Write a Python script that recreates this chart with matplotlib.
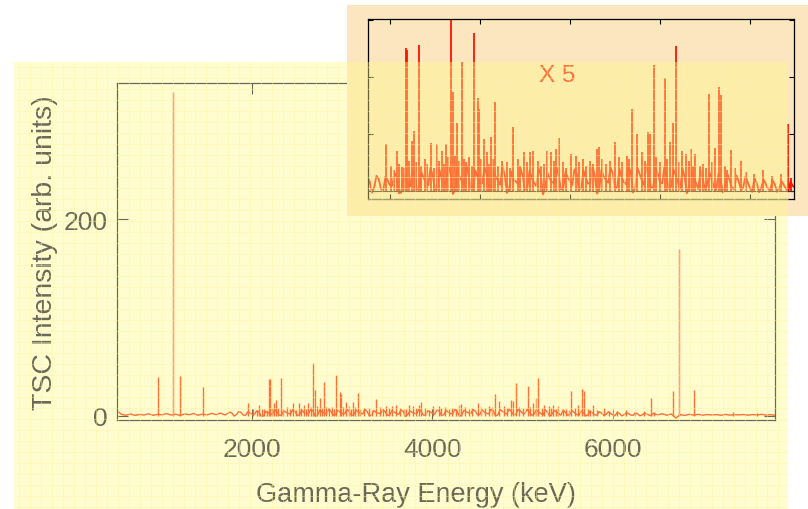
import matplotlib.pyplot as plt
import numpy as np
from matplotlib.patches import Rectangle
from matplotlib.lines import Line2D

plt.rcParams['font.family'] = ['Liberation Sans', 'DejaVu Sans']

# Фон спектра: значения на сетке 50 кэВ
bg_energy = np.arange(500, 7801, 50)
bg_counts = [
    5.0, 1.2, 0.4, 1.6, 0.2, 1.1, 0.6, 1.8, 0.3, 1.3,
    0.8, 2.0, 0.5, 1.4, 0.1, 1.7, 0.9, 2.1, 0.4, 1.5,
    0.7, 2.2, 1.0, 2.6, 0.6, 3.5, -0.5, 4.0, 0.5, 3.8,
    1.5, 4.8, -0.6, 4.2, 2.0, 5.8, 0.4, 4.9, 2.3, 6.1,
    0.2, 5.6, 2.4, 6.5, -0.8, 5.9, 2.6, 6.8, 0.6, 5.4,
    2.2, 6.2, 0.1, 5.5, 2.8, 6.6, -0.5, 5.1, 2.5, 6.0,
    0.3, 5.3, 2.1, 5.9, -0.9, 4.8, 2.4, 6.3, 0.4, 5.0,
    2.6, 5.7, 0.2, 5.4, 2.0, 6.4, -0.7, 5.6, 2.9, 6.2,
    0.6, 5.8, 2.3, 6.7, -0.4, 6.1, 2.7, 6.9, 1.0, 6.3,
    2.4, 6.5, 0.5, 5.6, 2.2, 6.0, -0.6, 5.2, 2.1, 5.5,
    0.4, 4.9, 1.0, 4.6, -0.4, 4.4, 0.8, 4.1, 0.2, 3.9,
    0.7, 3.4, -0.3, 3.0, 0.5, 2.8, -0.2, 2.6, 0.6, 2.4,
    0.8, 1.9, 0.3, 1.6, -2.5, 1.0, 0.2, 1.3, 0.5, 1.2,
    0.4, 1.1, 0.6, 1.0, 0.3, 1.2, 0.5, 0.9, 0.7, 1.1,
    0.4, 1.0, 0.6, 1.3, 0.5, 0.9, 0.3,
]

# Промежуточные точки фона (середины 50-кэВ шагов) в области вставки
mid_energy = np.arange(1775, 6476, 50)
mid_counts = [
    2.5, 1.0, 3.2, 0.2, 2.8, 1.4, 3.6, -0.4, 3.0, 1.2,
    3.8, 0.6, 3.4, 1.5, 4.2, 0.8, 3.1, 1.9, 4.5, 0.3,
    3.6, 1.7, 4.0, 0.9, 3.3, 2.0, 4.4, 0.5, 3.7, 1.6,
    4.1, 0.7, 3.0, 1.8, 3.9, 0.4, 3.5, 1.3, 4.3, 0.9,
    3.2, 2.1, 4.0, 0.6, 3.6, 1.5, 4.6, 0.8, 3.4, 1.9,
    4.2, 0.5, 3.8, 2.2, 4.7, 1.1, 3.5, 1.8, 4.9, 0.7,
    4.4, 1.6, 3.9, 0.9, 4.6, 2.0, 3.7, 1.2, 4.1, 0.6,
    3.5, 1.4, 3.8, 0.5, 3.2, 1.7, 3.0, 0.3, 2.9, 1.1,
    2.7, 0.4, 2.5, 1.0, 2.3, -0.2, 2.1, 0.8, 1.9, 0.2,
    1.8, 0.6, 1.6, -0.1, 1.4,
]

# Сильные линии (кэВ, высота)
peak_energy = [958, 1119, 1204, 1451, 1953, 2075, 2130, 2182, 2192, 2241,
               2267, 2319, 2456, 2519, 2575, 2623, 2680, 2697, 2722, 2748,
               2797, 2823, 2934, 2975, 2990, 3045, 3075, 3120, 3170, 3370,
               3489, 3556, 3593, 3741, 3786, 3845, 3875, 4011, 4067, 4297,
               4319, 4500, 4630, 4692, 4741, 4797, 4870, 4889, 4930, 5055,
               5111, 5148, 5175, 5241, 5289, 5341, 5392, 5444, 5541, 5611,
               5655, 5677, 5786, 5900, 6419, 6663, 6740, 6903, 7337, 7602]
peak_height = [39, 330, 40.6, 28.8, 12.4, 10.6, 6.3, 37.6, 37, 13.2,
               15.9, 38.4, 12.6, 12.4, 10.6, 12.4, 53.6, 26, 9.3, 18,
               34, 8.4, 41.5, 24.4, 21.6, 13.7, 10.2, 14.3, 23.5, 16.8,
               10.2, 10.2, 10.6, 10.6, 10.2, 11, 13.9, 9.7, 9.3, 11,
               11.5, 12.8, 9.3, 21.6, 15, 10.2, 15.4, 15, 33.2, 29.7,
               12.8, 18, 38.1, 10.6, 9.7, 11, 9.7, 6.7, 25.5, 11.2,
               27.3, 25.3, 10.9, 8, 17.6, 24.7, 170, 26, 3.2, 2.5]

# Слабые линии
weak_energy = [2010, 2050, 2105, 2160, 2215, 2290, 2345, 2385, 2415, 2490,
               2545, 2600, 2650, 2770, 2850, 2880, 2910, 3010, 3100, 3145,
               3200, 3240, 3300, 3330, 3420, 3450, 3520, 3640, 3680, 3710,
               3820, 3920, 3960, 4100, 4140, 4180, 4220, 4260, 4360, 4400,
               4440, 4540, 4580, 4660, 4830, 4960, 5000, 5080, 5210, 5320,
               5370, 5480, 5510, 5580, 5720, 5750, 5830, 5960, 6050, 6150,
               6250, 6350, 6460]
weak_height = [6.5, 5.5, 7.0, 6.0, 8.0, 7.5, 6.5, 8.5, 7.0, 6.0,
               8.0, 7.0, 9.0, 8.0, 7.5, 9.0, 6.5, 8.5, 7.0, 8.5,
               6.5, 8.0, 7.5, 6.0, 8.5, 6.5, 7.5, 8.0, 6.5, 7.0,
               8.0, 7.5, 6.0, 7.5, 8.5, 6.5, 8.0, 7.0, 8.5, 7.0,
               8.0, 9.0, 7.5, 8.5, 8.0, 9.0, 7.5, 8.5, 7.5, 8.0,
               6.5, 7.0, 6.0, 7.5, 6.5, 5.5, 6.0, 5.0, 4.5, 5.5,
               4.0, 4.5, 3.5]

x_ticks = [2000, 4000, 6000]
y_ticks = [0, 200]
inset_x_ticks = [2000, 3000, 4000, 5000, 6000]
inset_y_ticks = [0, 75, 150, 225]
inset_scale = 5

RED = '#ff1400'
INK = '#0a0a35'
W, H = 808, 510

# фон целиком: основная сетка + промежуточные точки
all_e = np.concatenate([bg_energy, mid_energy])
all_c = np.concatenate([bg_counts, mid_counts])
order = np.argsort(all_e)
all_e, all_c = all_e[order], all_c[order]


def fig_box(x0, y0, x1, y1):
    # пиксели (сверху вниз) -> доли фигуры
    return [x0 / W, 1 - y1 / H, (x1 - x0) / W, (y1 - y0) / H]


def draw_spectrum(ax, scale, lw):
    ax.plot(all_e, all_c * scale, color=RED, lw=lw)
    ax.vlines(peak_energy, 0, np.array(peak_height) * scale, color=RED, lw=lw)
    ax.vlines(weak_energy, 0, np.array(weak_height) * scale, color=RED, lw=lw)


fig = plt.figure(figsize=(W / 100, H / 100), dpi=100)

# Основной график
ax = fig.add_axes(fig_box(117, 84, 775, 421), zorder=1)
ax.set_facecolor('none')
draw_spectrum(ax, 1, 1.0)
ax.set_xlim(500, 7800)
ax.set_ylim(-4.5, 339)
ax.set_xticks(x_ticks)
ax.set_yticks(y_ticks)
ax.tick_params(direction='in', length=8, width=0.8, top=True, right=True,
               labelsize=19, colors=INK)
ax.tick_params(axis='x', pad=12)
ax.tick_params(axis='y', pad=6.5)
for s in ax.spines.values():
    s.set_linewidth(0.9)
    s.set_color(INK)
ax.set_xlabel('Gamma-Ray Energy (keV)', fontsize=19.5, va='center', color=INK)
ax.xaxis.set_label_coords((416 - 117) / 658, -(495 - 421) / 337)
ax.set_ylabel('TSC Intensity (arb. units)', fontsize=20.5, va='center', color=INK)
ax.yaxis.set_label_coords((45 - 117) / 658, 0.5)

# Персиковая подложка вставки
fig.add_artist(Rectangle((347 / W, 1 - 217 / H), (W - 347) / W, 211 / H,
                         transform=fig.transFigure, facecolor='#fce6c0',
                         edgecolor='none', zorder=2))

# Вставка x5
axin = fig.add_axes(fig_box(368, 20, 794, 200), zorder=3)
axin.set_facecolor('none')
draw_spectrum(axin, inset_scale, 1.3)
axin.axhline(0, color='#333333', lw=0.8)
axin.set_xlim(1756, 6489)
axin.set_ylim(-10.5, 226)
axin.set_xticks(inset_x_ticks)
axin.set_yticks(inset_y_ticks)
axin.tick_params(direction='in', length=3.5, width=0.8, top=True, right=True,
                 labelbottom=False, labelleft=False)
for s in axin.spines.values():
    s.set_linewidth(0.9)
fig.text(557 / W, 1 - 76 / H, 'X 5', ha='center', va='center',
         fontsize=17.5, color=RED, zorder=3.5)

# Жёлтая полупрозрачная панель поверх всего
px0, py0, px1 = 14, 63, 788
fig.add_artist(Rectangle((px0 / W, 0), (px1 - px0) / W, (H - py0) / H,
                         transform=fig.transFigure, facecolor=(1, 250 / 255, 137 / 255),
                         alpha=0.4, edgecolor='none', zorder=4))

# Мелкая клетка на панели
for gx in np.arange(px0 + 5, px1, 11):
    fig.add_artist(Line2D([gx / W, gx / W], [0, 1 - py0 / H], transform=fig.transFigure,
                          color='#fff3a0', lw=0.5, alpha=0.6, zorder=5))
for gy in np.arange(py0 + 5, H, 11):
    fig.add_artist(Line2D([px0 / W, px1 / W], [1 - gy / H, 1 - gy / H], transform=fig.transFigure,
                          color='#fff3a0', lw=0.5, alpha=0.6, zorder=5))

fig.savefig('out.png', dpi=100, facecolor='white')
